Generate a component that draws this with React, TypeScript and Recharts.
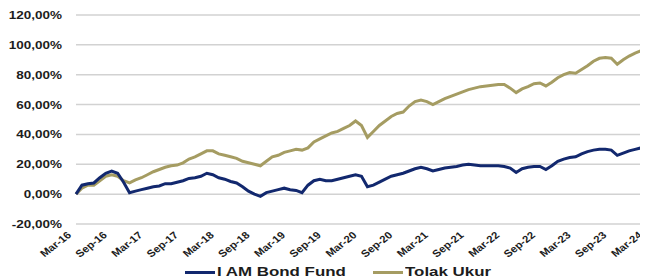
import React from "react";
import { CartesianGrid, Legend, Line, LineChart, XAxis, YAxis } from "recharts";

// monthly values, Mar-16 .. Mar-24 (cumulative return, %)
const bondFund = [
  0, 6, 7, 7.5, 11, 14, 15.5, 14, 8, 1, 2, 3,
  4, 5, 5.5, 7, 7, 8, 9, 10.5, 11, 12, 14, 13,
  11, 10, 8.5, 7.5, 5, 2, 0, -1.5, 1, 2, 3, 4,
  3, 2.5, 1, 6, 9, 10, 9, 9, 10, 11, 12, 13,
  12, 5, 6, 8, 10, 12, 13, 14, 15.5, 17, 18, 17,
  15.5, 16.5, 17.5, 18, 18.5, 19.5, 20, 19.5, 19, 19, 19, 19,
  18.5, 17.5, 14.5, 17, 18, 18.5, 18.5, 16.5, 19, 22, 23.5, 24.5,
  25, 27, 28.5, 29.5, 30, 30, 29.5, 26, 27.5, 29, 30, 31,
  31.5,
];

const tolakUkur = [
  0, 4, 6, 6, 9, 12, 13, 12, 9, 7.5, 9.5, 11,
  13, 15, 16.5, 18, 19, 19.5, 21, 23.5, 25, 27, 29, 29,
  27, 26, 25, 24, 22, 21, 20, 19, 22, 25, 26, 28,
  29, 30, 29.5, 31, 35, 37, 39, 41, 42, 44, 46, 49,
  46, 38, 42, 46, 49, 52, 54, 55, 59, 62, 63, 62,
  60, 62, 64, 65.5, 67, 68.5, 70, 71, 72, 72.5, 73, 73.5,
  73.5, 71, 68, 70.5, 72, 74, 74.5, 72.5, 75, 78, 80, 81.5,
  81, 83.5, 86, 89, 91, 91.5, 91, 87, 90, 92.5, 94.5, 96,
  96.7,
];

const tickLabels = [
  "Mar-16", "Sep-16", "Mar-17", "Sep-17", "Mar-18", "Sep-18", "Mar-19", "Sep-19",
  "Mar-20", "Sep-20", "Mar-21", "Sep-21", "Mar-22", "Sep-22", "Mar-23", "Sep-23", "Mar-24",
];

const yTicks = [-20, 0, 20, 40, 60, 80, 100, 120];

const seriesNames = ["I AM Bond Fund", "Tolak Ukur"];
const COLORS = ["#12286e", "#a59c62"];

const data = bondFund.map((v, i) => ({ m: i, bond: v, bench: tolakUkur[i] }));
const xTicks = tickLabels.map((_, i) => i * 6);

const FONT = "'Liberation Sans', Arial, sans-serif";

function YTick({ y, payload }: any) {
  const label = payload.value.toFixed(2).replace(".", ",") + "%";
  return (
    <text
      transform={`translate(62,${y + 4}) scale(1.35,1)`}
      textAnchor="end"
      fontFamily={FONT}
      fontWeight="bold"
      fontSize={10}
      fill="#1c1c1c"
    >
      {label}
    </text>
  );
}

function XTick({ x, y, payload }: any) {
  const label = tickLabels[Math.round(payload.value / 6)];
  return (
    <text
      transform={`translate(${x - 4},${y + 4}) scale(1.15,1) rotate(-42)`}
      textAnchor="end"
      fontFamily={FONT}
      fontWeight="bold"
      fontSize={10}
      fill="#1c1c1c"
    >
      {label}
    </text>
  );
}

function LegendBox() {
  const item = (i: number, left: number) => (
    <div style={{ position: "absolute", left, top: 0, display: "flex", alignItems: "center" }}>
      <div style={{ width: 30, height: 3, background: COLORS[i] }} />
      <span
        style={{
          fontFamily: FONT,
          fontWeight: "bold",
          fontSize: 13,
          color: "#1c1c1c",
          marginLeft: 2,
          display: "inline-block",
          transform: "scaleX(1.3)",
          transformOrigin: "left center",
          whiteSpace: "nowrap",
          lineHeight: "16px",
        }}
      >
        {seriesNames[i]}
      </span>
    </div>
  );
  return (
    <div style={{ position: "relative", width: 648, height: 16 }}>
      {item(0, 185)}
      {item(1, 373)}
    </div>
  );
}

export default function App() {
  return (
    <div style={{ margin: "-8px 0 0 -8px", width: 648, height: 280, background: "#fff" }}>
      <LineChart
        width={648}
        height={280}
        data={data}
        margin={{ top: 15, right: 1, left: 0, bottom: 0 }}
      >
        <CartesianGrid vertical={false} stroke="#d2d2d2" strokeWidth={1.5} />
        <XAxis
          dataKey="m"
          type="number"
          domain={[0, 96]}
          ticks={xTicks}
          axisLine={false}
          tickLine={false}
          height={40}
          tick={<XTick />}
          interval={0}
        />
        <YAxis
          domain={[-20, 120]}
          ticks={yTicks}
          axisLine={false}
          tickLine={false}
          width={76}
          tick={<YTick />}
          interval={0}
        />
        <Legend
          verticalAlign="bottom"
          wrapperStyle={{ position: "absolute", left: 0, top: 264, width: 648 }}
          content={() => <LegendBox />}
        />
        <Line
          type="linear"
          dataKey="bench"
          name={seriesNames[1]}
          stroke={COLORS[1]}
          strokeWidth={3}
          dot={false}
          isAnimationActive={false}
        />
        <Line
          type="linear"
          dataKey="bond"
          name={seriesNames[0]}
          stroke={COLORS[0]}
          strokeWidth={3}
          dot={false}
          isAnimationActive={false}
        />
      </LineChart>
    </div>
  );
}
